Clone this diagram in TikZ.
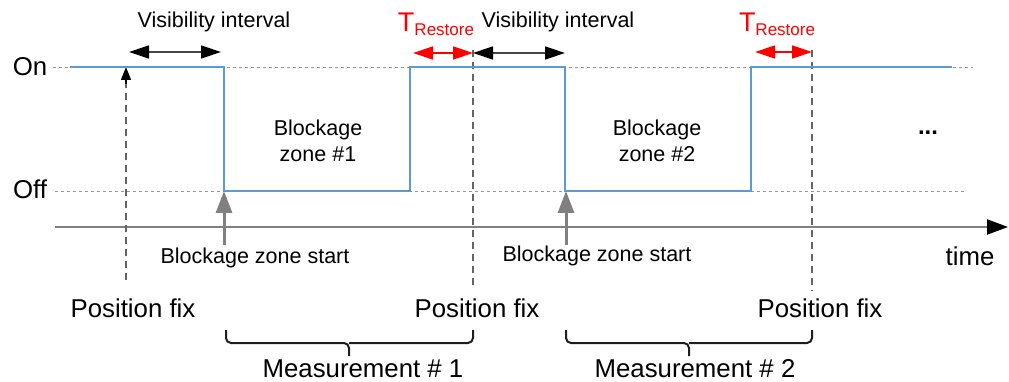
\documentclass[tikz,border=0pt]{standalone}
\usepackage{fontspec}
\setmainfont{Liberation Sans}
\usetikzlibrary{arrows.meta}
\definecolor{sig}{RGB}{91,155,213}
\definecolor{grid}{RGB}{150,150,150}
\definecolor{vline}{RGB}{100,100,100}
\definecolor{axisc}{RGB}{128,128,128}
\definecolor{redc}{RGB}{255,0,0}
\definecolor{bracec}{RGB}{30,30,30}
\definecolor{shaft}{RGB}{70,70,70}
\tikzset{
  lbl/.style={inner sep=0pt, font=\fontsize{21.5}{24}\selectfont},
  big/.style={inner sep=0pt, font=\fontsize{25.8}{28}\selectfont},
  guide/.style={grid, dashed, dash pattern=on 3pt off 3pt, line width=0.9pt},
  fixline/.style={vline, dash pattern=on 7pt off 5pt, line width=1.1pt},
  signal/.style={sig, line width=1.6pt},
  blackarr/.style={shaft, line width=1.4pt, {Triangle[length=20pt,width=13pt,color=black]}-{Triangle[length=20pt,width=13pt,color=black]}},
  redarr/.style={redc, line width=1.4pt, {Triangle[length=20pt,width=13pt]}-{Triangle[length=20pt,width=13pt]}},
  startarr/.style={axisc, line width=3pt, -{Triangle[length=22pt,width=16pt]}},
  bracel/.style={bracec, line width=2pt, rounded corners=5pt},
}
\begin{document}
\begin{tikzpicture}[x=1pt,y=-1pt]
\useasboundingbox (0,0) rectangle (1009,382);
% levels
\node[big] (on) at (30,67) {On};
\node[big] (off) at (30,189) {Off};
\coordinate (onL) at (53,67); \coordinate (onR) at (973,67);
\coordinate (offL) at (55,191); \coordinate (offR) at (965,191);
\draw[guide] (onL) -- (onR);
\draw[guide] (offL) -- (offR);
% time axis
\coordinate (axL) at (55,227); \coordinate (axR) at (1008,227);
\draw[axisc, line width=2pt, -{Triangle[length=21pt,width=15pt,color=black]}] (axL) -- (axR);
\node[big] (time) at (970,256) {time};
% position fix lines
\coordinate (f1t) at (126,67); \coordinate (f1b) at (126,280);
\coordinate (f2t) at (473,50); \coordinate (f2b) at (473,287);
\coordinate (f3t) at (812,50); \coordinate (f3b) at (812,291);
\draw[fixline] (f1b) -- (126,82);
\draw[black, line width=1.2pt, -{Triangle[length=13pt,width=10pt]}] (126,84) -- (f1t);
\draw[fixline] (f2t) -- (f2b);
\draw[fixline] (f3t) -- (f3b);
% signal
\draw[signal] (70,67) -- (224,67) -- (224,191) -- (410,191) -- (410,67) -- (565,67) -- (565,191) -- (751,191) -- (751,67) -- (952,67);
% top annotations
\node[lbl] (vis1) at (214,22) {Visibility interval};
\node[lbl] (vis2) at (558,22) {Visibility interval};
\coordinate (v1a) at (129,52); \coordinate (v1b) at (221,52);
\draw[blackarr] (v1a) -- (v1b);
\coordinate (r1a) at (413,53); \coordinate (r1b) at (473,53); \coordinate (v2b) at (565,53);
\draw[redarr] (r1a) -- (r1b);
\draw[blackarr] (r1b) -- (v2b);
\coordinate (r2a) at (755,52); \coordinate (r2b) at (812,52);
\draw[redarr] (r2a) -- (r2b);
\node[inner sep=0pt, anchor=base, text=redc] (tr1) at (436,32) {\fontsize{27}{30}\selectfont T\raisebox{-4pt}{\fontsize{17}{20}\selectfont Restore}};
\node[inner sep=0pt, anchor=base, text=redc] (tr2) at (777,32) {\fontsize{27}{30}\selectfont T\raisebox{-4pt}{\fontsize{17}{20}\selectfont Restore}};
% blockage zones
\node[lbl, align=center] (bz1) at (318,141) {Blockage\\[2pt]zone \#1};
\node[lbl, align=center] (bz2) at (657,141) {Blockage\\[2pt]zone \#2};
\node[inner sep=0pt, font=\fontsize{24}{26}\selectfont\bfseries] (dots) at (928,133) {...};
% blockage zone start arrows
\coordinate (s1b) at (224,245); \coordinate (s1t) at (224,191);
\coordinate (s2b) at (566,245); \coordinate (s2t) at (566,191);
\draw[startarr] (s1b) -- (s1t);
\draw[startarr] (s2b) -- (s2t);
\node[lbl] (bs1) at (255,258) {Blockage zone start};
\node[lbl] (bs2) at (597,256) {Blockage zone start};
% position fix labels
\node[big] (pf1) at (133,308) {Position fix};
\node[big] (pf2) at (477,308) {Position fix};
\node[big] (pf3) at (820,308) {Position fix};
% braces
\coordinate (b1a) at (226,330); \coordinate (b1b) at (473,330); \coordinate (b1m) at (349,356);
\draw[bracel] (b1a) -- (226,343) -- (349,343) -- (b1m);
\draw[bracel] (b1b) -- (473,343) -- (349,343);
\coordinate (b2a) at (566,330); \coordinate (b2b) at (812,330); \coordinate (b2m) at (689,356);
\draw[bracel] (b2a) -- (566,343) -- (689,343) -- (b2m);
\draw[bracel] (b2b) -- (812,343) -- (689,343);
\node[big] (m1) at (363,369) {Measurement \# 1};
\node[big] (m2) at (695,369) {Measurement \# 2};
\end{tikzpicture}
\end{document}
